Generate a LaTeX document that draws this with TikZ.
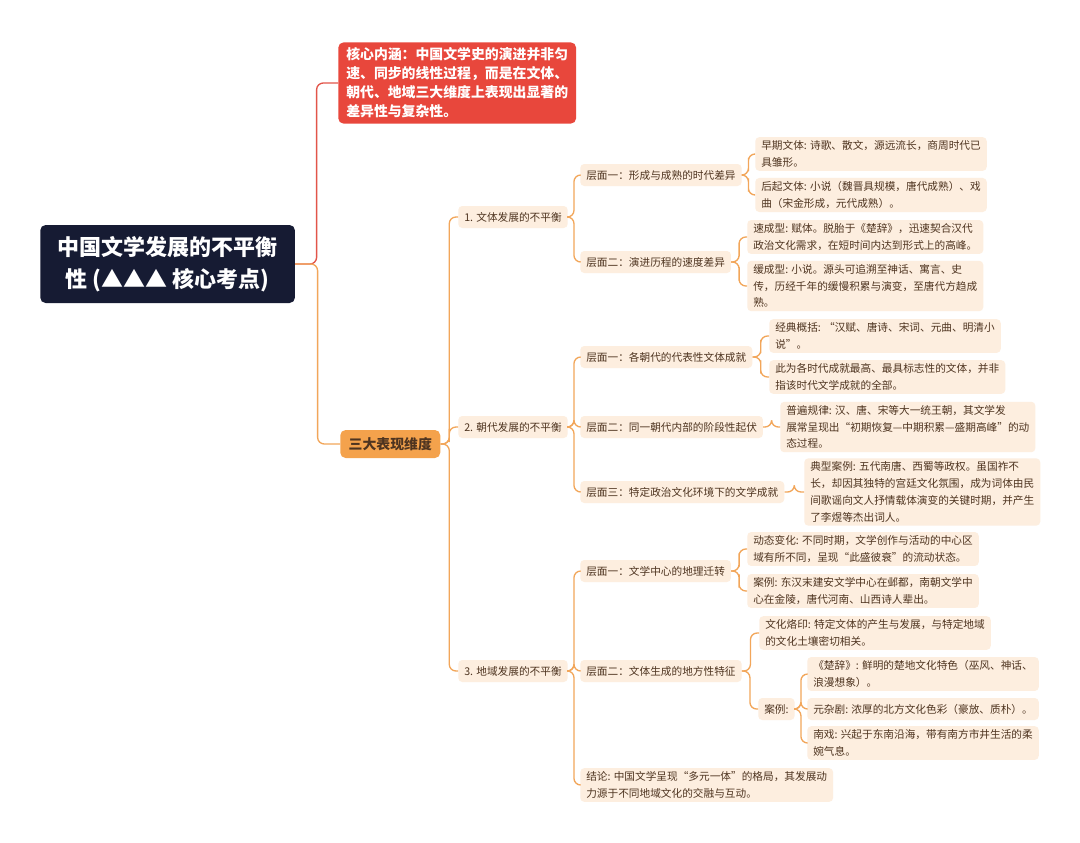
\documentclass[tikz,border=0pt]{standalone}
\usepackage{fontspec}
\setmainfont{Noto Sans CJK SC}
\usetikzlibrary{calc}
\definecolor{navy}{HTML}{161B33}
\definecolor{redbox}{HTML}{E8473C}
\definecolor{orbox}{HTML}{F4A24C}
\definecolor{peach}{HTML}{FDEEDF}
\definecolor{brown}{HTML}{4E3420}
\definecolor{lineor}{HTML}{F2A65A}
\definecolor{linered}{HTML}{E2554A}
\tikzset{
 leaf/.style={fill=peach,rounded corners=3pt,text=brown,font=\fontsize{8}{12.6}\selectfont,align=left,inner xsep=4.5pt,inner ysep=2.6pt,anchor=west,minimum height=16.5pt},
 conn/.style={draw=lineor,line width=1pt,rounded corners=5pt},
}
\newcommand\conn[3][lineor]{\draw[conn,draw=#1] (#2.east) -| ($(#2.east)!.5!(#3.west)$) |- (#3.west);}
\begin{document}
\begin{tikzpicture}[x=0.75pt,y=-0.75pt]
\useasboundingbox (0,0) rectangle (1080,842);
\fill[white] (0,0) rectangle (1080,842);
\node[fill=navy,rounded corners=4pt,text=white,font=\fontsize{16.5}{24}\selectfont\bfseries,align=center,anchor=west,minimum width=191pt,minimum height=58.5pt] (root) at (40,264) {中国文学发展的不平衡\\性 (▲▲▲ 核心考点)};
\node[fill=redbox,rounded corners=4pt,text=white,font=\fontsize{10.4}{14.3}\selectfont\bfseries,align=left,anchor=west,inner xsep=6pt,inner ysep=4pt] (core) at (338,83) {核心内涵：中国文学史的演进并非匀\\速、同步的线性过程，而是在文体、\\朝代、地域三大维度上表现出显著的\\差异性与复杂性。};
\node[fill=orbox,rounded corners=4pt,text=brown,font=\fontsize{10.4}{13}\selectfont\bfseries,anchor=west,minimum width=75pt,minimum height=21pt] (dim) at (340,444) {三大表现维度};
% level 2
\node[leaf] (a) at (458,217) {1. 文体发展的不平衡};
\node[leaf] (b) at (458,427) {2. 朝代发展的不平衡};
\node[leaf] (c) at (458,671) {3. 地域发展的不平衡};
% level 3
\node[leaf] (a1) at (580,175) {层面一：形成与成熟的时代差异};
\node[leaf] (a2) at (580,262) {层面二：演进历程的速度差异};
\node[leaf] (b1) at (580,357) {层面一：各朝代的代表性文体成就};
\node[leaf] (b2) at (580,427) {层面二：同一朝代内部的阶段性起伏};
\node[leaf] (b3) at (580,492) {层面三：特定政治文化环境下的文学成就};
\node[leaf] (c1) at (580,571) {层面一：文学中心的地理迁转};
\node[leaf] (c2) at (580,671) {层面二：文体生成的地方性特征};
\node[leaf] (c3) at (580,785) {结论: 中国文学呈现“多元一体”的格局，其发展动\\力源于不同地域文化的交融与互动。};
% leaves
\node[leaf] (a11) at (755,154) {早期文体: 诗歌、散文，源远流长，商周时代已\\具雏形。};
\node[leaf] (a12) at (755,195) {后起文体: 小说（魏晋具规模，唐代成熟）、戏\\曲（宋金形成，元代成熟）。};
\node[leaf] (a21) at (747,237) {速成型: 赋体。脱胎于《楚辞》，迅速契合汉代\\政治文化需求，在短时间内达到形式上的高峰。};
\node[leaf] (a22) at (747,286) {缓成型: 小说。源头可追溯至神话、寓言、史\\传，历经千年的缓慢积累与演变，至唐代方趋成\\熟。};
\node[leaf] (b11) at (769,336) {经典概括: “汉赋、唐诗、宋词、元曲、明清小\\说”。};
\node[leaf] (b12) at (769,377) {此为各时代成就最高、最具标志性的文体，并非\\指该时代文学成就的全部。};
\node[leaf] (b21) at (780,427) {普遍规律: 汉、唐、宋等大一统王朝，其文学发\\展常呈现出“初期恢复—中期积累—盛期高峰”的动\\态过程。};
\node[leaf] (b31) at (804,492) {典型案例: 五代南唐、西蜀等政权。虽国祚不\\长，却因其独特的宫廷文化氛围，成为词体由民\\间歌谣向文人抒情载体演变的关键时期，并产生\\了李煜等杰出词人。};
\node[leaf] (c11) at (747,549) {动态变化: 不同时期，文学创作与活动的中心区\\域有所不同，呈现“此盛彼衰”的流动状态。};
\node[leaf] (c12) at (747,591) {案例: 东汉末建安文学中心在邺都，南朝文学中\\心在金陵，唐代河南、山西诗人辈出。};
\node[leaf] (c21) at (759,633) {文化烙印: 特定文体的产生与发展，与特定地域\\的文化土壤密切相关。};
\node[leaf] (c22) at (758,709) {案例:};
\node[leaf] (c221) at (807,674) {《楚辞》: 鲜明的楚地文化特色（巫风、神话、\\浪漫想象）。};
\node[leaf] (c222) at (807,709) {元杂剧: 浓厚的北方文化色彩（豪放、质朴）。};
\node[leaf] (c223) at (807,743) {南戏: 兴起于东南沿海，带有南方市井生活的柔\\婉气息。};
% connectors
\conn[linered]{root}{core}
\conn{root}{dim}
\foreach \p/\c in {dim/a,dim/b,dim/c,a/a1,a/a2,b/b1,b/b2,b/b3,c/c1,c/c2,c/c3,a1/a11,a1/a12,a2/a21,a2/a22,b1/b11,b1/b12,b2/b21,b3/b31,c1/c11,c1/c12,c2/c21,c2/c22,c22/c221,c22/c222,c22/c223}
  {\conn{\p}{\c}}
\end{tikzpicture}
\end{document}
